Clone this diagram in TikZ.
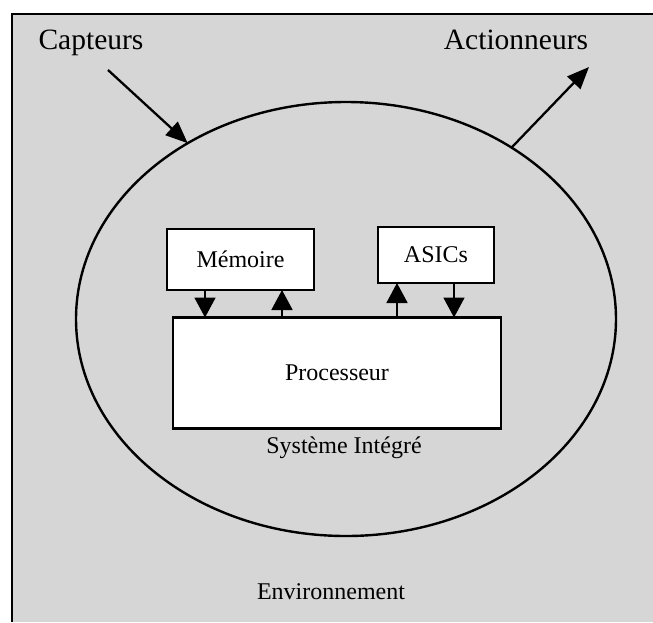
\documentclass[tikz,border=0pt]{standalone}
\usepackage{fontspec}
\setmainfont{Liberation Serif}
\usetikzlibrary{shapes.geometric,arrows.meta}
\definecolor{bggray}{gray}{0.84}
\tikzset{
  big/.style={font=\fontsize{29.5}{34}\selectfont, inner sep=0pt},
  small/.style={font=\fontsize{24}{28}\selectfont, inner sep=0pt},
  box/.style={draw, line width=2.2pt, fill=white, inner sep=0pt, outer sep=0pt, font=\fontsize{24}{28}\selectfont},
  link/.style={line width=1.8pt, -{Triangle[length=20pt,width=21pt]}},
  outarrow/.style={line width=2.3pt, -{Triangle[length=22pt,width=18pt]}}
}
\begin{document}
\begin{tikzpicture}[x=1pt,y=-1pt]
\useasboundingbox (0,0) rectangle (653,622);
% environment frame
\fill[bggray] (12,14) rectangle (653,622);
\draw[line width=2.4pt] (12,622) -- (12,14) -- (653,14);
% integrated system
\node[ellipse, draw, line width=2.4pt, outer sep=0pt, inner sep=0pt,
      minimum width=540pt, minimum height=434pt] (sys) at (346,319) {};
% boxes
\node[box, minimum width=147pt, minimum height=61pt] (mem) at (240.5,259.5) {Mémoire\hspace{18pt}};
\node[box, minimum width=116pt, minimum height=56pt] (asic) at (436,255) {ASICs\hspace{8pt}};
\node[box, minimum width=328pt, minimum height=111pt] (proc) at (337,373) {Processeur\hspace{14pt}};
% links between boxes
\draw[link] ([xshift=38pt]mem.south west) -- ([xshift=38pt]mem.south west |- proc.north);
\draw[link] ([xshift=115pt]mem.south west |- proc.north) -- ([xshift=115pt]mem.south west);
\draw[link] ([xshift=19pt]asic.south west |- proc.north) -- ([xshift=19pt]asic.south west);
\draw[link] ([xshift=76pt]asic.south west) -- ([xshift=76pt]asic.south west |- proc.north);
% labels
\node[big] (capt) at (91,43) {Capteurs};
\node[big] (act) at (516,40) {Actionneurs};
\node[small] (syslabel) at (344,448) {Système Intégré};
\node[small] (env) at (331,592) {Environnement};
% sensor / actuator arrows
\coordinate (cin) at (108,70);
\coordinate (aout) at (589,67);
\draw[outarrow] (cin) -- (sys.132.9);
\draw[outarrow] (sys.46.3) -- (aout);
\end{tikzpicture}
\end{document}
